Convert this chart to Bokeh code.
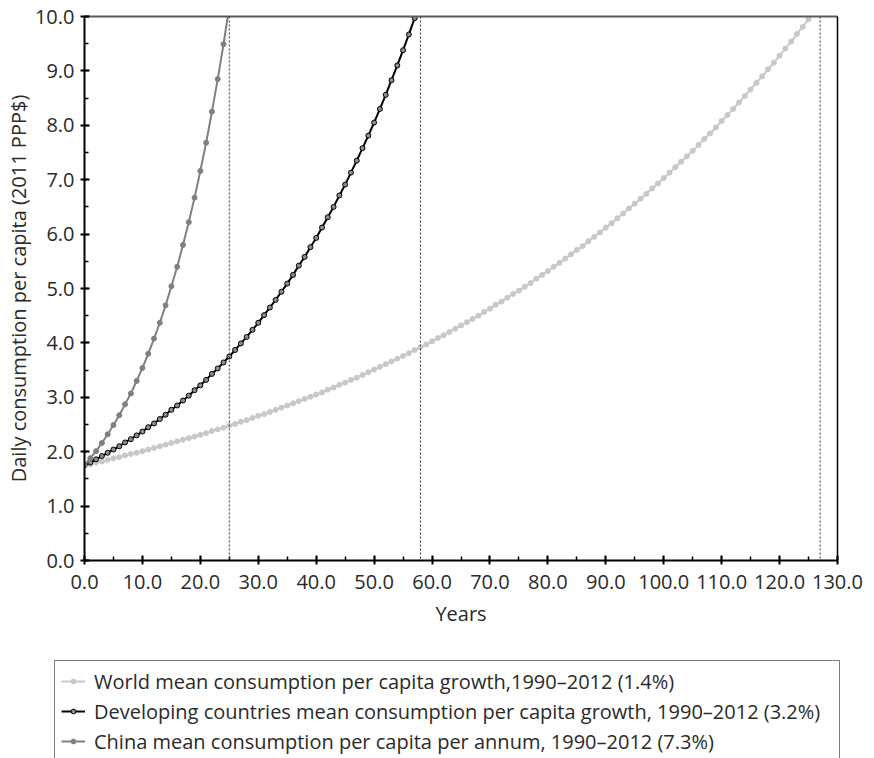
from bokeh.plotting import figure
from bokeh.models import (Range1d, LinearAxis, SingleIntervalTicker, FixedTicker,
                          NumeralTickFormatter, Span, Legend, LegendItem)
from bokeh.embed import file_html
from bokeh.resources import INLINE

# Daily consumption per capita (2011 PPP$), one value per projected year
world = [
    1.75, 1.77, 1.80, 1.82, 1.85, 1.88, 1.90, 1.93, 1.96, 1.98,
    2.01, 2.04, 2.07, 2.10, 2.13, 2.16, 2.19, 2.22, 2.25, 2.28,
    2.31, 2.34, 2.38, 2.41, 2.44, 2.48, 2.51, 2.55, 2.58, 2.62,
    2.66, 2.69, 2.73, 2.77, 2.81, 2.85, 2.89, 2.93, 2.97, 3.01,
    3.05, 3.09, 3.14, 3.18, 3.23, 3.27, 3.32, 3.36, 3.41, 3.46,
    3.51, 3.56, 3.61, 3.66, 3.71, 3.76, 3.81, 3.87, 3.92, 3.97,
    4.03, 4.09, 4.14, 4.20, 4.26, 4.32, 4.38, 4.44, 4.50, 4.57,
    4.63, 4.70, 4.76, 4.83, 4.90, 4.96, 5.03, 5.10, 5.18, 5.25,
    5.32, 5.40, 5.47, 5.55, 5.63, 5.71, 5.78, 5.87, 5.95, 6.03,
    6.12, 6.20, 6.29, 6.38, 6.47, 6.56, 6.65, 6.74, 6.84, 6.93,
    7.03, 7.13, 7.23, 7.33, 7.43, 7.53, 7.64, 7.75, 7.85, 7.96,
    8.08, 8.19, 8.30, 8.42, 8.54, 8.66, 8.78, 8.90, 9.03, 9.15,
    9.28, 9.41, 9.54, 9.68, 9.81, 9.95, 10.09,
]
developing = [
    1.75, 1.80, 1.86, 1.92, 1.98, 2.04, 2.10, 2.17, 2.23, 2.30,
    2.37, 2.45, 2.52, 2.60, 2.68, 2.77, 2.85, 2.94, 3.03, 3.13,
    3.22, 3.32, 3.43, 3.53, 3.64, 3.75, 3.87, 3.99, 4.11, 4.24,
    4.37, 4.51, 4.65, 4.79, 4.94, 5.09, 5.25, 5.42, 5.58, 5.76,
    5.93, 6.12, 6.31, 6.50, 6.71, 6.91, 7.13, 7.35, 7.58, 7.81,
    8.05, 8.30, 8.56, 8.83, 9.10, 9.38, 9.67, 9.97, 10.28,
]
china = [
    1.75, 1.88, 2.01, 2.16, 2.32, 2.49, 2.67, 2.87, 3.07, 3.30,
    3.54, 3.80, 4.08, 4.37, 4.69, 5.04, 5.40, 5.80, 6.22, 6.67,
    7.16, 7.68, 8.25, 8.85, 9.49, 10.19,
]
world_years = list(range(len(world)))
developing_years = list(range(len(developing)))
china_years = list(range(len(china)))

# Years needed to reach 10 PPP$ a day
threshold_years = [25, 58, 127]

labels = [
    "World mean consumption per capita growth,1990\u20132012 (1.4%)",
    "Developing countries mean consumption per capita growth, 1990\u20132012 (3.2%)",
    "China mean consumption per capita per annum, 1990\u20132012 (7.3%)",
]

FONT = "Open Sans"
TEXT = "#2a2a2a"
FS = "20px"

WORLD_C, DEV_C, DEV_FILL, CHINA_C = "#c8c8c8", "black", "#8c8c8c", "#808080"

p = figure(width=874, height=646, x_range=Range1d(0, 130), y_range=Range1d(0, 10),
           output_backend="svg", toolbar_location=None,
           min_border_left=84, min_border_right=37, min_border_top=16,
           min_border_bottom=86, outline_line_color=None,
           background_fill_color="white", border_fill_color="white")
p.grid.visible = False

xa = p.xaxis[0]
xa.ticker = SingleIntervalTicker(interval=10, num_minor_ticks=2)
xa.axis_label = "Years"
ya = p.yaxis[0]
ya.ticker = SingleIntervalTicker(interval=1, num_minor_ticks=2)
ya.axis_label = "Daily consumption per capita (2011 PPP$)"

for ax in (xa, ya):
    ax.formatter = NumeralTickFormatter(format="0.0")
    ax.axis_line_color = "black"
    ax.axis_line_width = 2
    ax.major_tick_line_color = "black"
    ax.major_tick_line_width = 2
    ax.major_tick_in = 5
    ax.major_tick_out = 4
    ax.minor_tick_line_color = "black"
    ax.minor_tick_line_width = 1.5
    ax.minor_tick_in = 4
    ax.minor_tick_out = 0
    ax.major_label_text_font = FONT
    ax.major_label_text_font_size = FS
    ax.major_label_text_color = TEXT
    ax.axis_label_text_font = FONT
    ax.axis_label_text_font_size = FS
    ax.axis_label_text_font_style = "normal"
    ax.axis_label_text_color = TEXT
xa.major_label_standoff = 10
xa.axis_label_standoff = 8
ya.major_label_standoff = 6
ya.axis_label_standoff = 0

# Frame edges on the top and right
top_edge = LinearAxis(ticker=FixedTicker(ticks=[]), axis_line_color="#5a5a5a",
                      axis_line_width=2, major_tick_line_color=None,
                      minor_tick_line_color=None)
right_edge = LinearAxis(ticker=FixedTicker(ticks=[]), axis_line_color="black",
                        axis_line_width=1.5, major_tick_line_color=None,
                        minor_tick_line_color=None)
p.add_layout(top_edge, "above")
p.add_layout(right_edge, "right")

for yr in threshold_years:
    p.add_layout(Span(location=yr, dimension="height", line_color="#333333",
                      line_width=1, line_dash="2 2"))

series = [
    (world_years, world, WORLD_C, WORLD_C, WORLD_C),
    (developing_years, developing, DEV_C, DEV_FILL, DEV_C),
    (china_years, china, CHINA_C, CHINA_C, CHINA_C),
]
for xs, ys, lc, fc, mc in series:
    p.line(xs, ys, line_color=lc, line_width=2)
    p.scatter(xs, ys, size=5, fill_color=fc, line_color=mc, line_width=1)

# Key panel underneath the chart (its series are kept hidden; only the key shows)
k = figure(width=874, height=112, x_range=Range1d(0, 1), y_range=Range1d(0, 1),
           output_backend="svg", toolbar_location=None,
           x_axis_type=None, y_axis_type=None, min_border=0,
           outline_line_color=None, background_fill_color="white",
           border_fill_color="white")
k.grid.visible = False

items = []
for label, (xs, ys, lc, fc, mc) in zip(labels, series):
    kl = k.line(xs, ys, line_color=lc, line_width=2, visible=False)
    ks = k.scatter(xs, ys, size=5, fill_color=fc, line_color=mc, line_width=1,
                   visible=False)
    items.append(LegendItem(label=label, renderers=[kl, ks]))

legend = Legend(
    items=items, location=(54, -4), padding=6, spacing=2, margin=0,
    glyph_width=24, glyph_height=12, label_height=28, label_width=739,
    label_standoff=9, label_text_font=FONT, label_text_font_size=FS,
    label_text_color=TEXT, border_line_color="black", border_line_width=1,
    background_fill_color="white", background_fill_alpha=1,
    inactive_fill_alpha=0,
)
k.add_layout(legend)

open("out.html", "w").write(file_html([p, k], INLINE))
